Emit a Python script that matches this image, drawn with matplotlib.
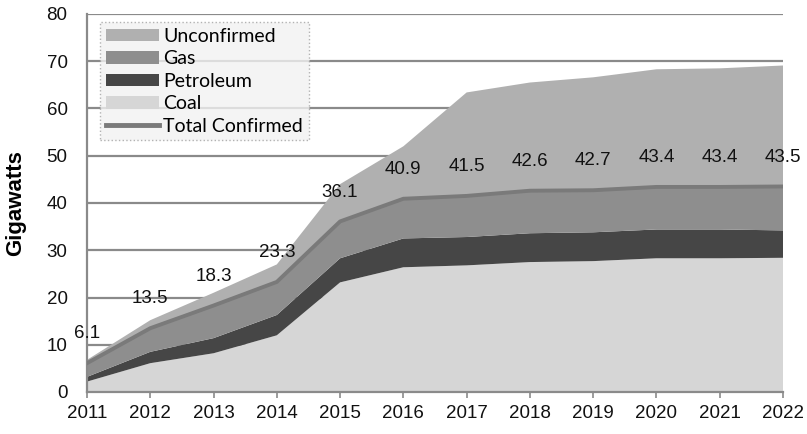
import matplotlib
matplotlib.use("Agg")
import matplotlib.pyplot as plt
from matplotlib.patches import Patch
from matplotlib.lines import Line2D

years = [2011, 2012, 2013, 2014, 2015, 2016, 2017, 2018, 2019, 2020, 2021, 2022]
coal = [2.2, 6.1, 8.2, 12.0, 23.2, 26.4, 26.8, 27.5, 27.7, 28.3, 28.3, 28.4]
petroleum = [1.0, 2.4, 3.2, 4.3, 5.1, 6.1, 6.0, 6.1, 6.1, 6.1, 6.1, 5.8]
total_confirmed = [6.1, 13.5, 18.3, 23.3, 36.1, 40.9, 41.5, 42.6, 42.7, 43.4, 43.4, 43.5]
total_all = [6.8, 15.2, 21.0, 27.0, 44.0, 52.0, 63.4, 65.5, 66.6, 68.3, 68.5, 69.1]

gas = [t - c - p for t, c, p in zip(total_confirmed, coal, petroleum)]
unconfirmed = [a - t for a, t in zip(total_all, total_confirmed)]

col_unconf = "#b0b0b0"
col_gas = "#8e8e8e"
col_pet = "#464646"
col_coal = "#d6d6d6"
col_line = "#7a7a7a"

fig = plt.figure(figsize=(8.07, 4.34), dpi=100)
ax = fig.add_axes([87/807, 1 - 392/434, (783 - 87)/807, (392 - 14)/434])

ax.stackplot(years, coal, petroleum, gas, unconfirmed,
             colors=[col_coal, col_pet, col_gas, col_unconf], zorder=2, linewidth=0)
ax.plot(years, total_confirmed, color=col_line, lw=2.8, zorder=3)

for x, v in zip(years, total_confirmed):
    ax.text(x, v + 6.2, f"{v:.1f}", ha="center", va="center", fontsize=13.5,
            family="Liberation Sans", color="#111111", zorder=4)

ax.set_xlim(2011, 2022)
ax.set_ylim(0, 80)
ax.set_xticks(years)
ax.set_yticks(range(0, 81, 10))
ax.set_xticklabels([str(y) for y in years], fontsize=13.5, family="Liberation Sans")
ax.set_yticklabels([str(v) for v in range(0, 81, 10)], fontsize=13.5, family="Liberation Sans")
ax.yaxis.grid(True, color="#8a8a8a", lw=1.6, zorder=0)
ax.set_axisbelow(True)
for s in ["top", "right"]:
    ax.spines[s].set_visible(False)
for s in ["left", "bottom"]:
    ax.spines[s].set_color("#8a8a8a")
    ax.spines[s].set_linewidth(1.6)
ax.tick_params(axis="x", colors="#8a8a8a", labelcolor="#111111", length=4, width=1.2, pad=5)
ax.tick_params(axis="y", colors="#8a8a8a", labelcolor="#111111", length=0, pad=14)
ax.set_ylabel("Gigawatts", fontsize=16, fontweight="bold", family="Liberation Sans")
ax.yaxis.set_label_coords(-0.088, 0.5)

handles = [Patch(facecolor=col_unconf, label="Unconfirmed"),
           Patch(facecolor=col_gas, label="Gas"),
           Patch(facecolor=col_pet, label="Petroleum"),
           Patch(facecolor=col_coal, label="Coal"),
           Line2D([0], [0], color=col_line, lw=3.5, label="Total Confirmed")]
leg = ax.legend(handles=handles, loc="upper left", bbox_to_anchor=(0.019, 0.979),
                prop={"family": "Lato", "size": 14}, handlelength=2.7, handleheight=0.62,
                labelspacing=0.28, borderpad=0.3, handletextpad=0.25, fancybox=False,
                frameon=True, borderaxespad=0)
leg.get_frame().set_facecolor("#f2f2f2")
leg.get_frame().set_edgecolor("#a0a0a0")
leg.get_frame().set_linestyle(":")
leg.get_frame().set_linewidth(1.0)

fig.savefig("out.png", dpi=100)
